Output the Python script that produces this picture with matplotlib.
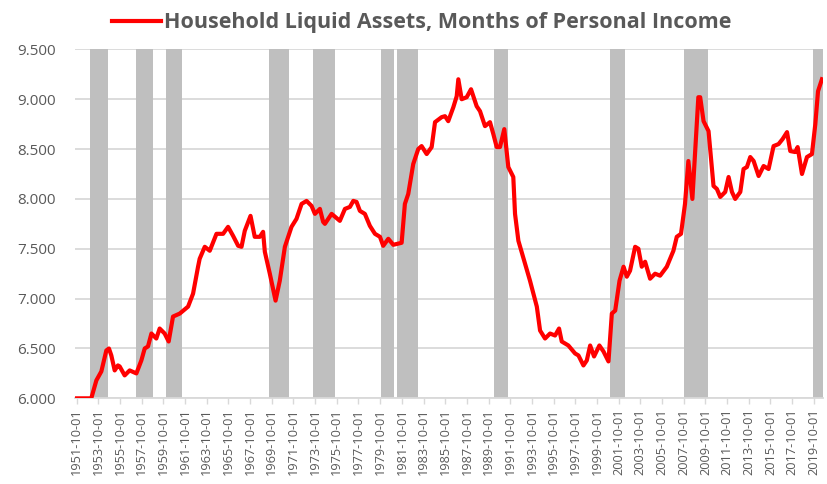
import numpy as np
import matplotlib.pyplot as plt

# household liquid assets in months of personal income
# dates are decimal years
dates = [1951.75, 1953.1, 1953.57, 1954.03, 1954.49, 1954.73, 1954.95, 1955.26, 1955.56, 1955.72,
         1956.18, 1956.64, 1957.26, 1957.72, 1958.03, 1958.33, 1958.65, 1959.1, 1959.41, 1959.87,
         1960.24, 1960.64, 1961.26, 1962.03, 1962.49, 1962.95, 1963.1, 1963.57, 1964.03, 1964.65,
         1965.26, 1965.72, 1966.18, 1966.65, 1966.96, 1967.26, 1967.79, 1968.18, 1968.65, 1968.95,
         1969.11, 1969.57, 1970.1, 1970.49, 1970.96, 1971.57, 1972.03, 1972.5, 1972.96, 1973.42,
         1973.73, 1974.19, 1974.49, 1974.65, 1975.27, 1976.03, 1976.5, 1976.96, 1977.27, 1977.57,
         1977.88, 1978.34, 1978.8, 1979.27, 1979.73, 1980.03, 1980.5, 1980.96, 1981.73, 1982.03,
         1982.34, 1982.8, 1983.26, 1983.57, 1984.04, 1984.5, 1984.81, 1985.42, 1985.73, 1986.03,
         1986.5, 1986.81, 1986.96, 1987.27, 1987.73, 1988.13, 1988.65, 1988.96, 1989.42, 1989.88,
         1990.19, 1990.5, 1990.8, 1991.2, 1991.57, 1992.03, 1992.19, 1992.5, 1993.11, 1993.57,
         1994.2, 1994.5, 1994.96, 1995.42, 1995.88, 1996.25, 1996.5, 1997.11, 1997.73, 1998.04,
         1998.5, 1998.81, 1999.12, 1999.48, 1999.97, 2000.35, 2000.81, 2001.12, 2001.43, 2001.83,
         2002.2, 2002.5, 2002.8, 2003.27, 2003.57, 2003.88, 2004.19, 2004.65, 2005.11, 2005.57,
         2006.19, 2006.8, 2007.11, 2007.5, 2007.87, 2008.18, 2008.55, 2009.1, 2009.27, 2009.58,
         2010.04, 2010.5, 2010.81, 2011.12, 2011.58, 2011.89, 2012.2, 2012.5, 2012.97, 2013.27,
         2013.58, 2013.89, 2014.2, 2014.66, 2015.12, 2015.58, 2016.04, 2016.5, 2016.87, 2017.28,
         2017.58, 2018.04, 2018.26, 2018.66, 2019.12, 2019.58, 2019.89, 2020.14, 2020.5]
values = [6.0, 6.0, 6.18, 6.27, 6.48, 6.50, 6.43, 6.28, 6.33, 6.32,
          6.23, 6.28, 6.25, 6.38, 6.50, 6.52, 6.65, 6.60, 6.70, 6.65,
          6.57, 6.82, 6.85, 6.92, 7.05, 7.32, 7.40, 7.52, 7.48, 7.65,
          7.65, 7.72, 7.63, 7.53, 7.52, 7.68, 7.83, 7.62, 7.62, 7.67,
          7.47, 7.25, 6.98, 7.18, 7.52, 7.72, 7.80, 7.95, 7.98, 7.93,
          7.85, 7.90, 7.77, 7.75, 7.85, 7.78, 7.90, 7.92, 7.98, 7.97,
          7.88, 7.85, 7.73, 7.65, 7.62, 7.53, 7.60, 7.54, 7.56, 7.95,
          8.05, 8.35, 8.50, 8.53, 8.45, 8.52, 8.77, 8.82, 8.83, 8.78,
          8.92, 9.03, 9.20, 9.00, 9.02, 9.10, 8.93, 8.88, 8.73, 8.77,
          8.65, 8.52, 8.52, 8.70, 8.32, 8.22, 7.85, 7.58, 7.35, 7.18,
          6.92, 6.68, 6.60, 6.65, 6.63, 6.70, 6.57, 6.53, 6.45, 6.43,
          6.33, 6.38, 6.53, 6.42, 6.53, 6.47, 6.37, 6.85, 6.88, 7.18,
          7.32, 7.22, 7.28, 7.52, 7.50, 7.32, 7.37, 7.20, 7.25, 7.23,
          7.32, 7.48, 7.62, 7.65, 7.95, 8.38, 8.00, 9.02, 9.02, 8.78,
          8.68, 8.13, 8.10, 8.02, 8.07, 8.22, 8.07, 8.00, 8.07, 8.30,
          8.32, 8.42, 8.38, 8.23, 8.33, 8.30, 8.53, 8.55, 8.60, 8.67,
          8.48, 8.47, 8.52, 8.25, 8.42, 8.45, 8.75, 9.08, 9.20]

# recession shading (start, end) as drawn
rec_start = [1953.0, 1957.26, 1959.97, 1969.48, 1973.57, 1979.82, 1981.27, 1990.27, 2000.97, 2007.8, 2019.65]
rec_end = [1954.64, 1958.8, 1961.47, 1971.33, 1975.57, 1981.02, 1983.26, 1991.57, 2002.3, 2009.95, 2020.64]

tick_years = list(range(1951, 2020, 2))
tick_labels = ['%d-10-01' % y for y in tick_years]

plt.rcParams['font.family'] = ['Open Sans', 'DejaVu Sans']

fig = plt.figure(figsize=(8.27, 4.84), dpi=100)
ax = fig.add_axes([0.0907, 0.177, 0.905, 0.721])

for s, e in zip(rec_start, rec_end):
    ax.axvspan(s, e, color='#BFBFBF', lw=0, zorder=1)

ax.plot(dates, values, color='#FF0000', lw=3, zorder=3,
        label='Household Liquid Assets, Months of Personal Income')

ax.set_ylim(6.0, 9.5)
ax.set_xlim(1951.6, 2020.64)
ax.set_yticks(np.arange(6.0, 9.51, 0.5))
ax.set_yticklabels(['%.3f' % v for v in np.arange(6.0, 9.51, 0.5)])
ax.set_xticks([y + 0.75 for y in tick_years])
ax.set_xticklabels(tick_labels, rotation=90)
ax.grid(axis='y', color='#D9D9D9', lw=1.3, zorder=0)
ax.set_axisbelow(True)

for sp in ['top', 'right', 'left']:
    ax.spines[sp].set_visible(False)
ax.spines['bottom'].set_color('#D9D9D9')
ax.spines['bottom'].set_linewidth(1.3)
ax.tick_params(axis='y', length=0, pad=14, labelsize=11, labelcolor='#595959')
ax.tick_params(axis='x', length=4, color='#D9D9D9', width=1, pad=3,
               labelsize=9.2, labelcolor='#595959')

leg = fig.legend(loc='upper center', bbox_to_anchor=(0.51, 1.015), frameon=False,
                 handlelength=2.3, handletextpad=0.15, prop={'size': 15.5, 'weight': 'bold'})
for t in leg.get_texts():
    t.set_color('#595959')

fig.savefig('out.png', dpi=100)
